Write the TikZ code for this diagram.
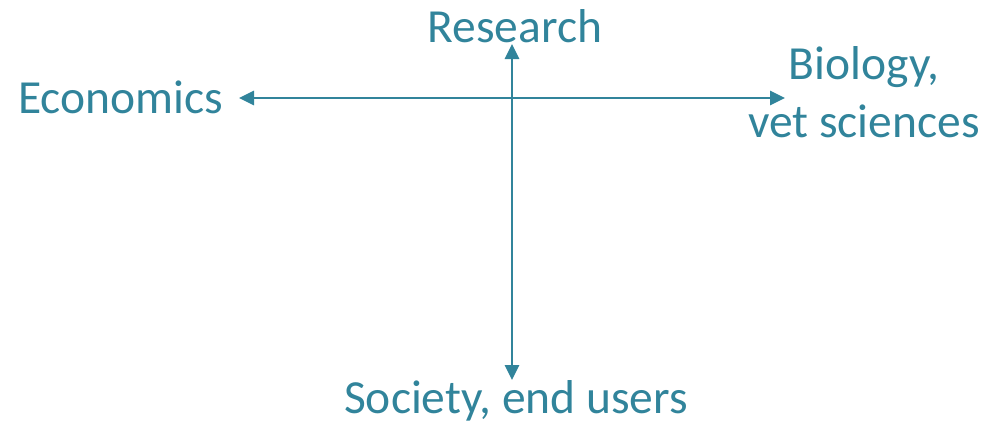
\documentclass[tikz,border=0pt]{standalone}
\usepackage{fontspec}
\setmainfont{Carlito}
\usetikzlibrary{arrows.meta}
\definecolor{teal1}{HTML}{31849B}
\begin{document}
\begin{tikzpicture}[x=1pt,y=-1pt,
  lbl/.style={text=teal1,font=\fontsize{47.5}{58}\selectfont,inner sep=0pt},
  tip/.tip={Triangle[length=15pt,width=14pt]},
  axis/.style={draw=teal1,line width=2.8pt,tip-tip}]
\useasboundingbox (0,0) rectangle (984,426);
\node[lbl,anchor=base] (res) at (515,42) {Research};
\node[lbl,anchor=base west] (eco) at (18,113) {Economics};
\node[lbl,anchor=base,align=center] (bio) at (864,137) {Biology,\\vet sciences};
\node[lbl,anchor=base] (soc) at (516,413) {Society, end users};
\coordinate (l) at (239,98);
\coordinate (r) at (785,98);
\coordinate (t) at (512,44);
\coordinate (b) at (512,380);
\draw[axis] (l) -- (r);
\draw[axis] (t) -- (b);
\end{tikzpicture}
\end{document}
